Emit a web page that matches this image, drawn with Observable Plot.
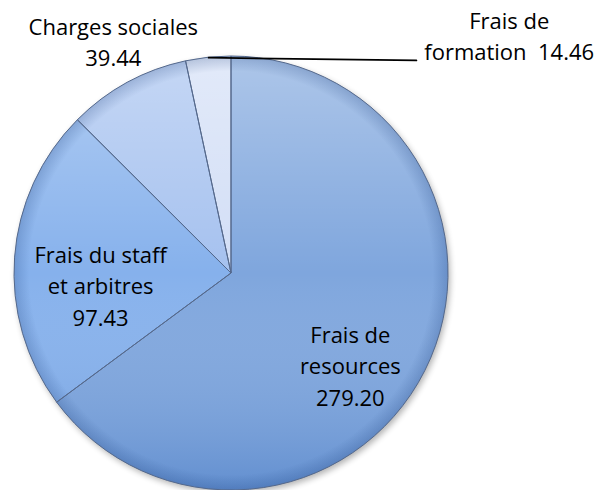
<!DOCTYPE html>
<html><head><meta charset="utf-8">
<script src="https://cdn.jsdelivr.net/npm/d3@7"></script>
<script src="https://cdn.jsdelivr.net/npm/@observablehq/plot@0.6"></script>
<style>body{margin:0;background:#fff}</style>
</head><body><div id="chart"></div>
<script>
// ---- data ----
const categories = ["Frais de resources", "Frais du staff et arbitres", "Charges sociales", "Frais de formation"];
const values = [279.20, 97.43, 39.44, 14.46];
const valueLabels = ["279.20", "97.43", "39.44", "14.46"];
const labelTexts = ["Frais de\nresources\n279.20", "Frais du staff\net arbitres\n97.43", "Charges sociales\n39.44", "Frais de\nformation\u00a0 14.46"];
const sliceColors = ["#7fa6dd", "#86b1ec", "#a5c1ef", "#d2def6"];

// ---- layout (label placement relative to slice mid-angle, in radii / degrees) ----
const labelPlacement = [{r: 0.819, turn: 21.3}, {r: 0.649, turn: -25.9}, {r: 1.10, turn: -1.1}, {r: 1.614, turn: 58.5}];
const leaderEnd = {r: 1.3, turn: 47.0};

const pie = d3.pie().sort(null).value(d => d).startAngle(0).endAngle(2 * Math.PI);
const arcs = pie(values).map((a, i) => ({...a, i, name: categories[i], color: sliceColors[i]}));
const mid = a => (a.startAngle + a.endAngle) / 2;
const polar = (ang, r) => ({x: r * Math.sin(ang), y: r * Math.cos(ang)});

const labels = arcs.map((a, i) => {
  const p = polar(mid(a) + labelPlacement[i].turn * Math.PI / 180, labelPlacement[i].r);
  return {...p, text: labelTexts[i]};
});
const f = arcs[3];
const leader = [
  {...polar(mid(f), 1)},
  {...polar(mid(f) + leaderEnd.turn * Math.PI / 180, leaderEnd.r)}
];

function pieMark(index, scales, values, dims) {
  const cx = scales.x(0), cy = scales.y(0);
  const R = scales.x(1) - cx;
  const svg = d3.create("svg:g");
  const defs = svg.append("defs");
  const lg = defs.append("linearGradient").attr("id", "pieShade")
    .attr("gradientUnits", "userSpaceOnUse")
    .attr("x1", 0).attr("y1", -R).attr("x2", 0).attr("y2", R);
  lg.append("stop").attr("offset", 0).attr("stop-color", "#fff").attr("stop-opacity", 0.36);
  lg.append("stop").attr("offset", 0.5).attr("stop-color", "#fff").attr("stop-opacity", 0.0);
  lg.append("stop").attr("offset", 1).attr("stop-color", "#1d58b0").attr("stop-opacity", 0.3);
  const rg = defs.append("radialGradient").attr("id", "pieEdge")
    .attr("gradientUnits", "userSpaceOnUse").attr("cx", 0).attr("cy", 0).attr("r", R);
  rg.append("stop").attr("offset", 0.93).attr("stop-color", "#163a78").attr("stop-opacity", 0);
  rg.append("stop").attr("offset", 1).attr("stop-color", "#163a78").attr("stop-opacity", 0.22);
  const flt = defs.append("filter").attr("id", "pieShadow").attr("x", "-20%").attr("y", "-20%").attr("width", "140%").attr("height", "140%");
  flt.append("feGaussianBlur").attr("stdDeviation", 3);
  const arc = d3.arc().innerRadius(0).outerRadius(R);
  const g = svg.append("g").attr("transform", `translate(${cx},${cy})`);
  g.append("circle").attr("cx", 2).attr("cy", 3).attr("r", R).attr("fill", "#000").attr("opacity", 0.3).attr("filter", "url(#pieShadow)");
  g.selectAll("path.s").data(arcs).join("path").attr("class", "s")
    .attr("d", arc).attr("fill", d => d.color);
  g.append("circle").attr("r", R).attr("fill", "url(#pieShade)");
  g.append("circle").attr("r", R).attr("fill", "url(#pieEdge)");
  g.selectAll("path.e").data(arcs).join("path").attr("class", "e")
    .attr("d", arc).attr("fill", "none").attr("stroke", "#55698c").attr("stroke-width", 1).attr("stroke-linejoin", "round");
  return svg.node();
}

const chart = Plot.plot({
  width: 603,
  height: 490,
  margin: 0,
  x: {domain: [-231 / 217, 372 / 217], axis: null},
  y: {domain: [-1, 273 / 217], axis: null},
  marks: [
    pieMark,
    Plot.line(leader, {x: "x", y: "y", stroke: "#000", strokeWidth: 1.8}),
    Plot.text(labels, {x: "x", y: "y", text: "text", lineAnchor: "bottom", lineHeight: 1.43,
      fontSize: 22, fontFamily: "Open Sans", fill: "#000", textAnchor: "middle"})
  ]
});
document.getElementById("chart").appendChild(chart);
</script>
</body></html>
